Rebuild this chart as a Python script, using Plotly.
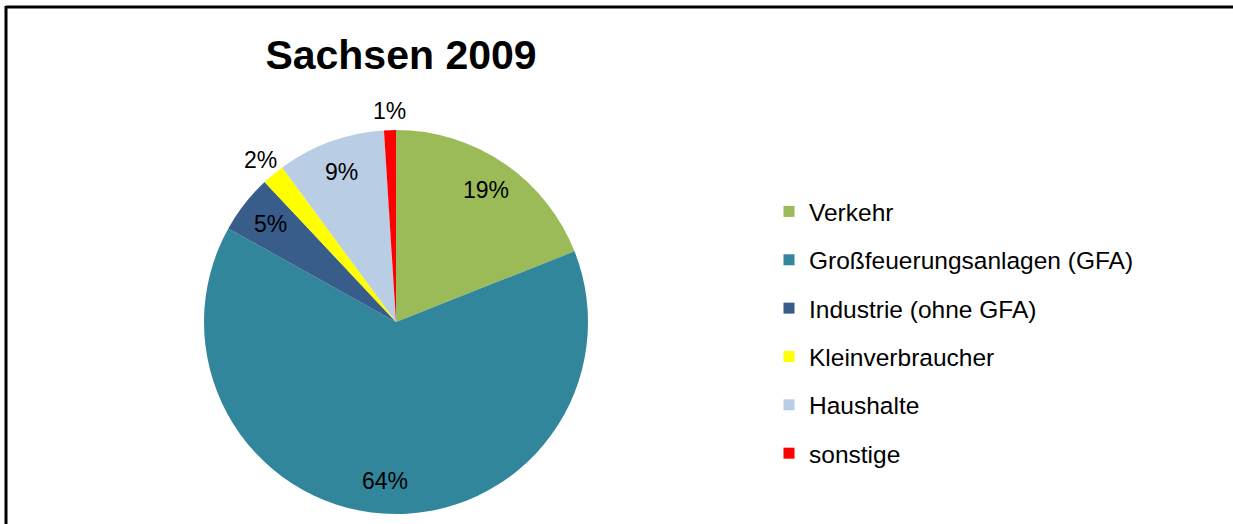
import math
import plotly.graph_objects as go

categories = ["Verkehr", "Großfeuerungsanlagen (GFA)", "Industrie (ohne GFA)",
              "Kleinverbraucher", "Haushalte", "sonstige"]
values = [19.0, 64.1, 4.9, 1.9, 9.1, 1.0]
colors = ["#9BBB59", "#31869B", "#385D8A", "#FFFF00", "#B9CDE5", "#FF0000"]
label_outside = [False, False, False, True, False, True]
title_text = "Sachsen 2009"

W, H = 1233, 524
FONT = "Liberation Sans, Arial, sans-serif"

# pie placement (pixels)
PIE_LEFT, PIE_RIGHT, PIE_TOP, PIE_BOTTOM = 204, 588, 130, 514
CX, CY = (PIE_LEFT + PIE_RIGHT) / 2, (PIE_TOP + PIE_BOTTOM) / 2
R = (PIE_RIGHT - PIE_LEFT) / 2

fig = go.Figure()
fig.add_trace(go.Pie(
    labels=categories,
    values=values,
    sort=False,
    direction="clockwise",
    rotation=0,
    marker=dict(colors=colors, line=dict(width=0)),
    textinfo="none",
    showlegend=False,
    hoverinfo="label+percent",
    domain=dict(x=[PIE_LEFT / W, PIE_RIGHT / W],
                y=[1 - PIE_BOTTOM / H, 1 - PIE_TOP / H]),
))

# percentage labels placed at slice mid-angles
total = sum(values)
annotations = []
cum = 0.0
for v, outside in zip(values, label_outside):
    mid = (cum + v / 2) / total * 2 * math.pi
    cum += v
    r = R * (1.1 if outside else 0.83)
    px = CX + r * math.sin(mid)
    py = CY - r * math.cos(mid)
    annotations.append(dict(
        x=px / W, y=1 - py / H, xref="paper", yref="paper",
        text=f"{round(v / total * 100)}%", showarrow=False,
        xanchor="center", yanchor="middle",
        font=dict(family=FONT, size=23, color="black"),
    ))

# legend entries (one group each, to reproduce the wide spacing)
for i, (cat, col) in enumerate(zip(categories, colors)):
    fig.add_trace(go.Scatter(
        x=[None], y=[None], mode="markers", name=cat,
        marker=dict(symbol="square", size=11, color=col),
        legendgroup=f"g{i}", showlegend=True, hoverinfo="skip",
    ))

fig.update_layout(
    width=W, height=H,
    margin=dict(l=0, r=0, t=0, b=0),
    paper_bgcolor="white", plot_bgcolor="white",
    title=dict(text=f"<b>{title_text}</b>", x=401 / W, xanchor="center",
               y=1 - 55 / H, yanchor="middle", yref="container",
               font=dict(family=FONT, size=41, color="black")),
    xaxis=dict(visible=False), yaxis=dict(visible=False),
    legend=dict(x=769 / W, xanchor="left", y=1 - 189 / H, yanchor="top",
                font=dict(family=FONT, size=24.5, color="black"),
                tracegroupgap=13.5, bgcolor="rgba(0,0,0,0)"),
    annotations=annotations,
    shapes=[
        dict(type="line", xref="paper", yref="paper", x0=6 / W, x1=6 / W,
             y0=0, y1=1 - 6 / H, line=dict(color="black", width=3)),
        dict(type="line", xref="paper", yref="paper", x0=6 / W, x1=1,
             y0=1 - 7 / H, y1=1 - 7 / H, line=dict(color="black", width=3)),
    ],
)

fig.write_html(
    "out.html",
    config={"displayModeBar": False},
    post_script="document.body.style.margin='0';"
                "document.documentElement.style.overflow='hidden';"
                "document.body.style.overflow='hidden';",
)
